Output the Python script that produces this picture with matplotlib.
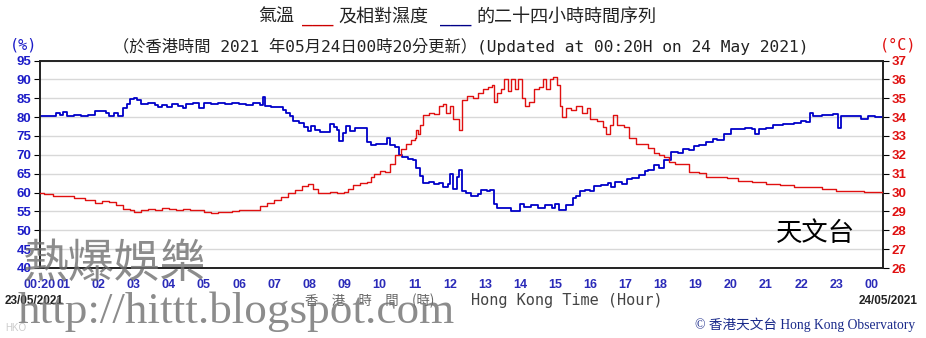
import matplotlib
matplotlib.use("Agg")
import matplotlib.pyplot as plt

# relative humidity (%): hour of day -> value
rh_hours = [0.33, 0.6, 0.8, 0.9, 1.0, 1.1, 1.3, 1.5, 1.7, 1.9, 2.1, 2.2, 2.3, 2.45, 2.55,
            2.65, 2.7, 2.8, 2.9, 3.0, 3.1, 3.2, 3.4, 3.6, 3.7, 3.8, 3.95, 4.1, 4.25, 4.4,
            4.5, 4.7, 4.85, 5.0, 5.2, 5.4, 5.6, 5.8, 6.0, 6.2, 6.4, 6.6, 6.68, 6.75, 6.9,
            7.1, 7.25, 7.35, 7.45, 7.55, 7.7, 7.85, 7.95, 8.05, 8.15, 8.3, 8.5, 8.6, 8.7,
            8.8, 8.85, 8.95, 9.05, 9.15, 9.3, 9.55, 9.65, 9.75, 9.9, 10.1, 10.2, 10.3,
            10.45, 10.55, 10.65, 10.8, 10.95, 11.05, 11.15, 11.25, 11.4, 11.55, 11.7,
            11.8, 11.95, 12.0, 12.1, 12.2, 12.25, 12.35, 12.45, 12.6, 12.8, 12.9, 13.05,
            13.15, 13.25, 13.35, 13.5, 13.65, 13.75, 13.85, 14.0, 14.1, 14.3, 14.5, 14.7,
            14.9, 15.0, 15.1, 15.2, 15.3, 15.5, 15.6, 15.7, 15.85, 16.0, 16.1, 16.3, 16.5,
            16.6, 16.7, 16.9, 17.05, 17.2, 17.4, 17.55, 17.65, 17.8, 17.95, 18.1, 18.3,
            18.5, 18.65, 18.8, 18.95, 19.1, 19.3, 19.5, 19.6, 19.8, 20.0, 20.4, 20.6,
            20.7, 20.8, 21.0, 21.2, 21.5, 21.8, 22.0, 22.15, 22.25, 22.35, 22.6, 22.9,
            23.05, 23.15, 23.5, 23.7, 23.9, 24.1, 24.33]
rh_vals = [80.2, 80.2, 81.0, 80.5, 81.3, 80.4, 80.6, 80.4, 80.5, 81.5, 81.6, 81.0, 80.3, 81.2, 80.2,
           80.4, 82.5, 83.5, 84.8, 85.0, 84.6, 83.6, 83.8, 83.2, 82.6, 83.3, 82.8, 83.6, 83.0, 82.4,
           83.6, 83.8, 82.5, 83.8, 83.6, 83.8, 83.4, 83.8, 83.5, 83.2, 83.8, 83.3, 85.2, 83.0, 82.6,
           82.6, 82.0, 81.0, 80.2, 79.0, 78.5, 77.3, 76.3, 77.6, 76.5, 76.0, 76.0, 78.2, 77.3,
           76.6, 73.7, 75.8, 77.6, 76.4, 77.0, 77.0, 73.3, 72.5, 73.0, 72.8, 74.5, 72.5,
           72.0, 70.0, 69.5, 69.0, 68.5, 66.5, 64.5, 62.5, 62.8, 62.2, 62.6,
           61.4, 62.3, 65.0, 61.0, 64.0, 66.0, 60.5, 59.8, 59.2, 59.6, 60.7, 60.3,
           60.8, 57.0, 56.0, 55.8, 56.0, 55.2, 55.0, 56.9, 56.2, 56.8, 56.0, 56.6,
           55.9, 57.0, 55.4, 55.3, 56.8, 58.5, 59.2, 60.4, 60.8, 60.4, 61.8, 62.0, 62.4,
           61.5, 62.8, 62.3, 63.5, 63.9, 64.6, 65.6, 66.0, 67.2, 66.4, 68.6, 70.8,
           70.5, 71.6, 71.2, 72.4, 72.6, 73.5, 74.3, 73.8, 75.6, 76.9, 77.0, 76.8,
           75.5, 76.8, 77.2, 78.0, 78.2, 78.5, 78.9, 78.6, 81.1, 80.4, 80.5, 80.7,
           77.0, 80.2, 80.2, 79.5, 80.3, 80.0, 80.4]

# air temperature (deg C)
temp_hours = [0.33, 0.45, 0.7, 1.0, 1.3, 1.6, 1.9, 2.1, 2.3, 2.5, 2.7, 2.9, 3.0, 3.2, 3.4,
              3.6, 3.8, 4.0, 4.2, 4.4, 4.6, 4.8, 5.0, 5.2, 5.4, 5.6, 5.8, 6.0, 6.2, 6.4,
              6.6, 6.8, 7.0, 7.2, 7.4, 7.6, 7.8, 7.95, 8.1, 8.25, 8.4, 8.6, 8.8, 9.0, 9.1,
              9.25, 9.45, 9.65, 9.75, 9.85, 10.0, 10.15, 10.3, 10.45, 10.6, 10.75, 10.9,
              11.0, 11.05, 11.1, 11.15, 11.25, 11.4, 11.55, 11.7, 11.8, 11.9, 12.0, 12.1,
              12.25, 12.35, 12.5, 12.65, 12.8, 12.95, 13.1, 13.2, 13.25, 13.35, 13.45,
              13.55, 13.65, 13.75, 13.85, 13.95, 14.05, 14.15, 14.25, 14.4, 14.55, 14.65,
              14.75, 14.85, 14.95, 15.05, 15.15, 15.2, 15.3, 15.45, 15.6, 15.75, 15.9,
              16.0, 16.2, 16.35, 16.45, 16.55, 16.65, 16.75, 16.95, 17.1, 17.3, 17.5,
              17.65, 17.8, 17.95, 18.1, 18.25, 18.4, 18.6, 18.8, 19.1, 19.3, 19.6, 19.9,
              20.2, 20.6, 21.0, 21.4, 21.8, 22.2, 22.6, 23.0, 23.4, 23.8, 24.33]
temp_vals = [30.0, 29.9, 29.8, 29.8, 29.7, 29.6, 29.45, 29.55, 29.5, 29.35, 29.15, 29.05, 28.95, 29.05, 29.15,
             29.1, 29.2, 29.15, 29.1, 29.15, 29.05, 29.05, 28.95, 28.9, 28.95, 28.95, 29.0, 29.05, 29.05, 29.1,
             29.3, 29.45, 29.6, 29.75, 29.95, 30.15, 30.35, 30.45, 30.2, 30.0, 30.0, 30.05, 30.0, 30.05, 30.2,
             30.4, 30.5, 30.55, 30.8, 31.0, 31.15, 31.1, 31.5, 32.0, 32.3, 32.6, 32.8,
             32.9, 33.3, 33.1, 33.6, 34.1, 34.2, 34.15, 34.6, 34.7, 34.2, 34.6, 33.9,
             33.3, 34.9, 35.1, 35.0, 35.3, 35.5, 35.6, 35.7, 34.8, 35.3, 35.5,
             36.0, 35.4, 36.0, 35.5, 36.0, 35.0, 34.6, 34.8, 35.5, 35.6, 36.0,
             35.5, 36.0, 36.1, 35.7, 34.6, 34.0, 34.5, 34.4, 34.6, 34.2, 34.5,
             33.9, 33.8, 33.5, 33.1, 33.6, 34.1, 33.6, 33.5, 32.9, 32.6, 32.6,
             32.35, 32.1, 32.0, 31.9, 31.6, 31.5, 31.5, 31.1, 31.05, 30.85, 30.8, 30.75,
             30.6, 30.55, 30.45, 30.4, 30.3, 30.3, 30.2, 30.1, 30.1, 30.05, 30.0]

x_ticks = [0.333] + list(range(1, 25))
x_labels = ["00:20"] + ["%02d" % h for h in range(1, 24)] + ["00"]
rh_ticks = list(range(40, 96, 5))
temp_ticks = list(range(26, 38))

W, H = 926, 338
CJK = ["Noto Sans CJK TC", "DejaVu Sans"]
BLUE = "#1c1cc8"
RED = "#e01010"


def fx(x):
    return x / W


def fy(y):
    return 1 - y / H


fig = plt.figure(figsize=(W / 100, H / 100), dpi=100)
ax = fig.add_axes([fx(40), fy(268), fx(883 - 40), (268 - 60.5) / H])
ax2 = ax.twinx()

ax.set_xlim(0.333, 24.333)
ax.set_ylim(40, 95)
ax2.set_ylim(26, 37)

ax.set_xticks(range(1, 25), minor=True)
ax.grid(True, which="minor", axis="x", color="#d8d8d8", lw=1)
ax.set_yticks(rh_ticks)
ax.grid(True, which="major", axis="y", color="#d8d8d8", lw=1)
ax.set_xticks(x_ticks)
ax.set_xticklabels(x_labels)
ax.tick_params(axis="x", which="both", direction="in", length=5, pad=8,
               labelsize=9, labelcolor="#2a2ab8")
ax.tick_params(axis="x", which="major", length=0)
ax.tick_params(axis="y", direction="out", length=4, labelsize=9.5, labelcolor=BLUE, pad=2)
ax2.set_yticks(temp_ticks)
ax2.tick_params(axis="y", direction="out", length=4, labelsize=9.5, labelcolor=RED, pad=2)
for lab in ax.get_xticklabels() + ax.get_yticklabels() + ax2.get_yticklabels():
    lab.set_fontweight("bold")
    lab.set_fontfamily("Liberation Sans")
for a in (ax, ax2):
    for s in a.spines.values():
        s.set_color("#222222")
        s.set_linewidth(1.2)

ax.plot(rh_hours, rh_vals, drawstyle="steps-post", color="#0000c8", lw=1.3, zorder=3)
ax2.plot(temp_hours, temp_vals, drawstyle="steps-post", color=RED, lw=1.0, zorder=3)

ax2.text(0.92, 0.165, "天文台", transform=ax.transAxes, ha="center", va="center",
         fontsize=19, family=CJK, color="black")

# titles
ty = fy(17)
fig.text(fx(258), ty, "氣溫", family=CJK, fontsize=13, va="center", color="#222222")
fig.text(fx(302), ty, "___", family="DejaVu Sans Mono", fontsize=12.5, va="center", color="#cc0000")
fig.text(fx(338), ty, "及相對濕度", family=CJK, fontsize=13, va="center", color="#222222")
fig.text(fx(440), ty, "___", family="DejaVu Sans Mono", fontsize=12.5, va="center", color="#000088")
fig.text(fx(476), ty, "的二十四小時時間序列", family=CJK, fontsize=13, va="center", color="#222222")
fig.text(fx(113), fy(46), "（於香港時間 2021 年05月24日00時20分更新）(Updated at 00:20H on 24 May 2021)",
         family=["DejaVu Sans Mono", "Noto Sans CJK TC"], fontsize=11.7, va="center", color="#222222")
fig.text(fx(10), fy(45), "(%)", family="DejaVu Sans Mono", fontsize=11, va="center", color=BLUE)
fig.text(fx(880), fy(45), "(°C)", family="DejaVu Sans Mono", fontsize=11, va="center", color=RED)

fig.text(fx(5), fy(301), "23/05/2021", family="Liberation Sans", fontweight="bold",
         fontsize=8.5, va="center", color="#222222")
fig.text(fx(918), fy(301), "24/05/2021", family="Liberation Sans", fontweight="bold",
         fontsize=8.5, va="center", ha="right", color="#222222")
fig.text(fx(305), fy(301), "香\u3000港\u3000時\u3000間\u3000(時)", family=CJK, fontsize=9.6,
         va="center", color="#666666")
fig.text(fx(471), fy(301), "Hong Kong Time (Hour)", family="DejaVu Sans Mono", fontsize=11,
         va="center", color="#444444")
fig.text(fx(695), fy(325), "© 香港天文台 Hong Kong Observatory",
         family=["Liberation Serif", "Noto Sans CJK TC"], fontsize=9.8, va="center", color="#1a2a8a")

# watermarks
fig.text(fx(22), fy(264), "熱爆娛樂", family=CJK, fontsize=33, va="center",
         color="#707070", alpha=0.8)
fig.text(fx(18), fy(312), "http://hittt.blogspot.com", family="Liberation Serif", fontsize=32.5,
         va="center", color="#707070", alpha=0.8)
fig.text(fx(5), fy(328), "HKO", family="Liberation Sans", fontsize=7, va="center", color="#cccccc")

fig.savefig("out.png", dpi=100)
